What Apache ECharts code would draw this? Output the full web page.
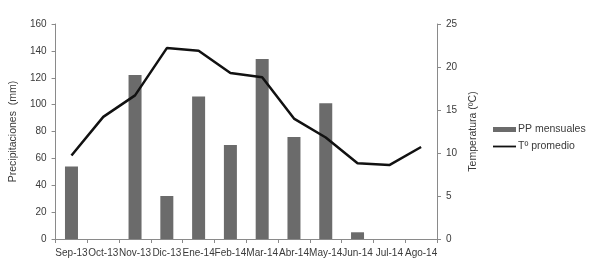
<!DOCTYPE html>
<html><head><meta charset="utf-8">
<script src="https://cdn.jsdelivr.net/npm/echarts@6/dist/echarts.min.js"></script>
<style>html,body{margin:0;padding:0;background:#fff}#c{width:589px;height:265px}</style>
</head><body><div id="c"></div>
<script>
const months = ['Sep-13','Oct-13','Nov-13','Dic-13','Ene-14','Feb-14','Mar-14','Abr-14','May-14','Jun-14','Jul-14','Ago-14'];
const precipitation = [54, 0, 122, 32, 106, 70, 134, 76, 101, 5, 0, 0];
const temperature = [9.7, 14.2, 16.7, 22.2, 21.9, 19.3, 18.8, 14.0, 11.8, 8.8, 8.6, 10.7];
const ppTicks = [0, 20, 40, 60, 80, 100, 120, 140, 160];
const tTicks = [0, 5, 10, 15, 20, 25];

const FONT = '"Liberation Sans", Arial, sans-serif';
const TXT = '#3a3a3a';
const AX = '#8a8a8a';
const chart = echarts.init(document.getElementById('c'), null, {renderer: 'canvas'});
chart.setOption({
  animation: false,
  backgroundColor: '#fff',
  textStyle: {fontFamily: FONT},
  grid: {left: 50, right: 152, top: 24, bottom: 26},
  legend: {
    orient: 'vertical', left: 493, top: 124, padding: 0, itemWidth: 23, itemHeight: 6, itemGap: 6,
    textStyle: {fontFamily: FONT, fontSize: 10.5, color: TXT, padding: [0,0,0,-3]},
    data: [
      {name: 'PP mensuales', icon: 'path://M0,0 L23,0 L23,5 L0,5 Z'},
      {name: 'Tº promedio', icon: 'path://M0,0 L23,0 L23,1.8 L0,1.8 Z'}
    ]
  },
  xAxis: {
    type: 'category', data: months, boundaryGap: true,
    axisLine: {lineStyle: {color: AX, width: 1}},
    axisTick: {show: true, alignWithLabel: false, length: 4, lineStyle: {color: AX}},
    axisLabel: {color: TXT, fontSize: 10, fontFamily: FONT, margin: 9, interval: 0}
  },
  yAxis: [{
    type: 'value', min: ppTicks[0], max: ppTicks[ppTicks.length-1], interval: 20,
    name: 'Precipitaciones  (mm)', nameLocation: 'middle', nameGap: 32,
    nameTextStyle: {color: TXT, fontSize: 10.5, fontFamily: FONT},
    axisLine: {show: true, lineStyle: {color: AX}},
    axisTick: {show: true, length: 4, lineStyle: {color: AX}},
    splitLine: {show: false},
    axisLabel: {color: TXT, fontSize: 10, fontFamily: FONT, margin: 9}
  }, {
    type: 'value', min: tTicks[0], max: tTicks[tTicks.length-1], interval: 5, position: 'right',
    name: 'Temperatura (ºC)', nameLocation: 'middle', nameGap: 22, nameRotate: 90,
    nameTextStyle: {color: TXT, fontSize: 10.5, fontFamily: FONT},
    axisLine: {show: true, lineStyle: {color: AX}},
    axisTick: {show: true, length: 4, inside: false, lineStyle: {color: AX}},
    splitLine: {show: false},
    axisLabel: {color: TXT, fontSize: 10, fontFamily: FONT, margin: 9}
  }],
  series: [{
    name: 'PP mensuales', type: 'bar', data: precipitation, barWidth: 13,
    itemStyle: {color: '#6b6b6b'}
  }, {
    name: 'Tº promedio', type: 'line', yAxisIndex: 1, data: temperature,
    symbol: 'none', lineStyle: {color: '#111', width: 2.5}, itemStyle: {color: '#111'}
  }]
});
</script></body></html>
